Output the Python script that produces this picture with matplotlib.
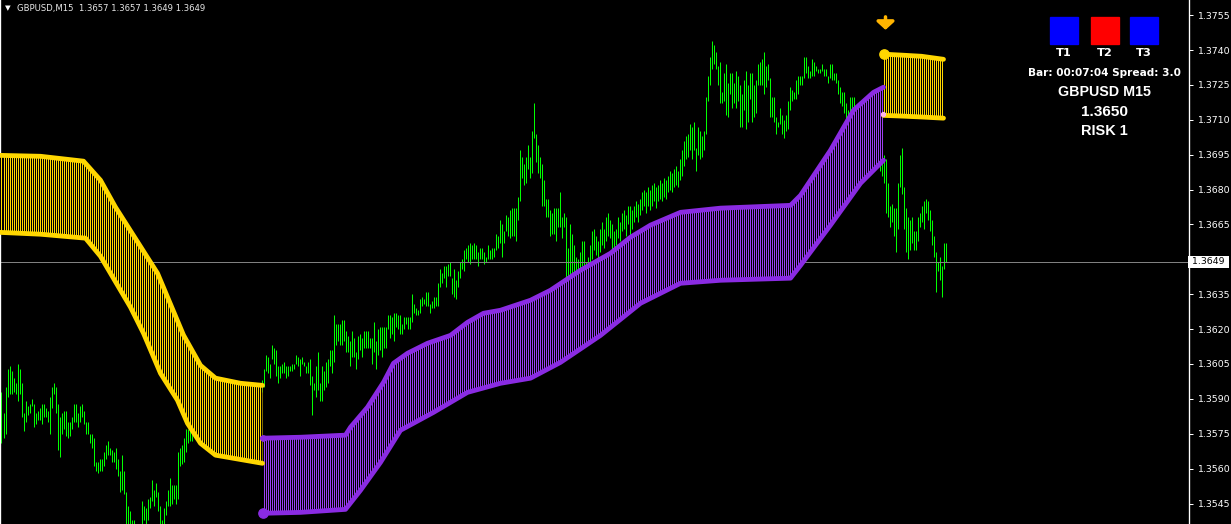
import numpy as np
import matplotlib
matplotlib.use('Agg')
import matplotlib.pyplot as plt
from matplotlib.patches import Rectangle
from matplotlib.transforms import blended_transform_factory

W, H, DPI = 1231, 524, 96
BASE = 1.3500          # prices below are stored as pips above 1.3500

# ── GBPUSD M15 bars (high / low, pips above 1.3500) ─────────────────────────
high_pips = [
    93, 84, 95, 103, 104, 102, 99, 97, 105, 103, 97, 84, 89, 87, 88, 90, 88, 84, 85, 86,
    88, 88, 86, 85, 91, 95, 97, 95, 88, 82, 84, 85, 85, 80, 80, 82, 88, 88, 84, 87,
    88, 85, 80, 80, 75, 75, 73, 63, 63, 64, 64, 67, 70, 72, 69, 68, 67, 69, 64, 59,
    66, 59, 50, 44, 42, 38, 38, 34, 33, 35, 46, 44, 43, 47, 48, 55, 51, 54, 50, 44,
    38, 43, 46, 51, 56, 53, 53, 53, 67, 69, 70, 73, 77, 77, 78,
    80, 82, 84, 83, 85, 86, 84, 87, 88, 86, 89, 90, 88, 91, 90, 92, 91, 89, 90, 92,
    93, 91, 94, 95, 93, 92, 94, 95, 96, 94, 95, 97, 96, 95, 97, 98,
    103, 109, 108, 105, 113, 112, 111, 104, 104, 105, 106, 104, 104, 104, 105, 105, 109, 108, 107, 108,
    106, 104, 106, 107, 100, 97, 104, 110, 97, 104, 102, 106, 107, 111, 111, 126, 122, 122, 122, 124,
    124, 119, 117, 115, 119, 116, 110, 117, 118, 116, 119, 119, 119, 116, 116, 123, 115, 120, 121, 121,
    121, 121, 126, 126, 125, 127, 127, 126, 126, 122, 125, 125, 125, 125, 135, 131, 129, 128, 133, 134,
    133, 136, 136, 131, 132, 134, 134, 140, 146, 144, 147, 147, 148, 149, 142, 146, 141, 145, 149, 150,
    154, 155, 156, 157, 156, 157, 156, 153, 155, 155,
    153, 151, 156, 154, 155, 155, 161, 160, 167, 165, 162, 169, 168, 171, 172, 172, 172, 177, 197, 194,
    191, 194, 199, 194, 205, 217, 204, 199, 194, 191, 184, 176, 176, 171, 170, 172, 172, 172, 179, 168,
    170, 168, 155, 165, 161, 156, 151, 150, 153, 158, 158, 149, 151,
    156, 162, 163, 160, 158, 163, 166, 163, 168, 170, 167, 165, 162, 163, 168, 166, 170, 171, 169, 173,
    173, 171, 173, 175, 174, 176, 179, 180, 179, 181, 180, 182, 183, 181, 182, 184, 183, 185, 184, 186,
    188, 187, 189, 190, 188, 193, 197, 201, 203, 204, 208, 207, 209, 198, 207, 205, 203, 205,
    220, 229, 237, 244, 242, 239, 233, 235, 222, 230, 234, 226, 230, 230, 226, 231, 229, 225, 221, 227,
    231, 225, 230, 230, 225, 227, 234, 235, 236, 239, 233, 234, 228, 220, 220, 211, 209, 215, 212, 210,
    212, 218, 224, 223, 222, 227, 229, 229, 229, 237, 237, 233, 231, 236, 235, 233, 232, 232, 234, 232,
    232, 229, 234, 234, 230, 230, 227, 224, 222, 222, 217, 214, 220, 220, 220, 215, 217, 218, 218,
    216, 214, 212, 210, 208, 205, 203, 200, 198, 196, 195,
    193, 183, 173, 174, 172, 172, 183, 195, 198, 181, 172, 168, 167, 168, 162, 162, 168, 170, 173, 175,
    176, 175, 171, 167, 160, 153, 149, 151, 147, 157, 157,
]
low_pips = [
    71, 73, 75, 91, 92, 92, 93, 92, 89, 92, 82, 76, 80, 83, 84, 87, 78, 79, 81, 81,
    79, 82, 82, 80, 75, 86, 92, 84, 68, 65, 75, 77, 74, 73, 74, 77, 80, 80, 78, 80,
    82, 79, 75, 75, 71, 69, 61, 59, 58, 59, 59, 61, 64, 66, 66, 63, 63, 60, 57, 50,
    51, 49, 33, 33, 32, 30, 31, 26, 25, 27, 34, 38, 35, 38, 43, 46, 44, 48, 42, 34,
    32, 35, 40, 44, 44, 45, 47, 45, 47, 61, 62, 63, 67, 71, 72,
    72, 74, 76, 75, 78, 79, 77, 80, 81, 79, 82, 83, 80, 84, 83, 85, 84, 82, 84, 86,
    86, 84, 87, 88, 86, 85, 88, 89, 89, 87, 88, 90, 89, 88, 91, 93,
    95, 102, 101, 99, 107, 105, 100, 97, 99, 101, 101, 99, 100, 102, 102, 103, 105, 104, 100, 105,
    104, 101, 101, 96, 83, 94, 91, 94, 89, 89, 94, 95, 97, 104, 101, 106, 113, 115, 113, 113,
    115, 110, 110, 104, 108, 108, 103, 107, 111, 108, 112, 112, 112, 112, 105, 110, 103, 109, 111, 108,
    112, 112, 120, 116, 118, 115, 121, 120, 118, 118, 120, 122, 120, 120, 123, 127, 126, 126, 127, 130,
    131, 130, 130, 127, 129, 129, 130, 130, 138, 140, 142, 138, 143, 143, 135, 134, 133, 138, 142, 146,
    145, 150, 149, 148, 150, 150, 150, 147, 150, 150,
    148, 149, 150, 150, 150, 151, 154, 155, 157, 151, 157, 162, 160, 159, 160, 160, 158, 167, 175, 185,
    182, 183, 189, 185, 187, 202, 192, 187, 185, 173, 173, 168, 168, 160, 161, 161, 158, 164, 164, 159,
    164, 137, 140, 137, 142, 137, 137, 138, 142, 147, 145, 142, 144,
    147, 150, 154, 152, 149, 153, 156, 155, 158, 160, 159, 154, 153, 156, 159, 158, 162, 163, 160, 165,
    160, 163, 166, 168, 166, 169, 171, 173, 170, 173, 171, 173, 175, 172, 175, 176, 175, 177, 176, 179,
    180, 179, 181, 182, 181, 184, 186, 190, 193, 194, 197, 193, 197, 188, 195, 193, 194, 197,
    204, 218, 225, 232, 234, 232, 225, 217, 217, 218, 212, 211, 221, 215, 217, 215, 218, 207, 207, 214,
    206, 209, 219, 209, 211, 213, 225, 225, 225, 221, 224, 227, 211, 211, 209, 204, 207, 208, 204, 202,
    205, 206, 214, 218, 219, 219, 221, 225, 225, 228, 230, 228, 228, 229, 229, 231, 230, 230, 231, 229,
    229, 226, 228, 227, 227, 226, 221, 217, 216, 213, 209, 209, 213, 214, 213, 211, 213, 216, 213,
    208, 205, 203, 200, 198, 195, 193, 190, 188, 186, 183,
    170, 168, 164, 166, 160, 153, 163, 181, 178, 163, 153, 150, 154, 157, 154, 154, 158, 164, 166, 163,
    170, 167, 162, 156, 151, 136, 145, 141, 134, 146, 149,
]

# ── indicator zones (bar index, pips) ────────────────────────────────────────
sell1_up_bar = [-1, 19.5, 41, 49.5, 57, 78, 91, 99.5, 107, 119.5, 130.5]
sell1_up = [194.7, 194.3, 192.2, 184.0, 172.4, 144.0, 117.4, 104.4, 98.9, 96.7, 95.8]
sell1_lo_bar = [-1, 19.5, 42, 49.5, 54.5, 64.5, 71, 79.5, 88, 93, 99.5, 107, 130.5]
sell1_lo = [161.6, 160.8, 159.1, 151.3, 144.0, 129.4, 118.2, 101.0, 89.4, 79.5, 70.9, 65.8, 62.3]

buy_up_bar = [130.5, 149.5, 172, 174.5, 183, 191, 196, 203, 213, 224.5, 233, 241, 249.5,
              264.5, 274.5, 289.5, 304.5, 314.5, 324.5, 339.5, 359.5, 394.5, 399.5, 414.5,
              426, 436, 441]
buy_up = [73.1, 73.5, 74.4, 77.8, 86.4, 97.1, 105.3, 109.6, 113.9, 117.3, 122.9, 126.8, 128.1,
          132.4, 136.7, 145.3, 152.6, 159.5, 164.7, 170.2, 172.0, 173.2, 177.5, 196.9,
          214.1, 221.8, 224.0]
buy_lo_bar = [130.5, 149.5, 172, 179.5, 189.5, 199.5, 216, 233, 249.5, 264.5, 272, 279.5,
              299.5, 319.5, 339.5, 359.5, 394.5, 399.5, 414.5, 429.5, 441]
buy_lo = [40.8, 41.2, 42.5, 50.7, 62.7, 76.5, 84.2, 92.8, 96.7, 98.9, 102.3, 105.7,
          117.3, 131.1, 139.7, 141.0, 141.9, 147.4, 164.7, 182.7, 192.6]

sell2_bar = [441, 450, 460, 471]
sell2_up = [238.2, 237.8, 237.3, 236.0]
sell2_lo = [211.9, 211.6, 211.2, 210.7]

signal_bar = 442
signal_arrow = (255.4, 247.5)   # arrow tail / tip
current_price = 1.3649
price_ticks = [1.3545, 1.3560, 1.3575, 1.3590, 1.3605, 1.3620, 1.3635,
               1.3665, 1.3680, 1.3695, 1.3710, 1.3725, 1.3740, 1.3755]
panel_labels = ['T1', 'T2', 'T3']
panel_colors = ['#0000ff', '#ff0000', '#0000ff']
panel_x = [1050, 1091, 1130]


def px(p):
    return BASE + np.asarray(p, dtype=float) / 10000


fig = plt.figure(figsize=(W / DPI, H / DPI), dpi=DPI, facecolor='black')
ax = fig.add_axes([0, 0, 1189 / W, 1])
ax.set_facecolor('black')
ax.set_xlim(-0.75, 593.75)      # 2 px per bar, bars on pixel centres
ax.set_ylim(1.35362, 1.37615)

# ── price bars ───────────────────────────────────────────────────────────────
bars = np.arange(len(high_pips))
ax.vlines(bars, px(low_pips), px(high_pips), color='#00ff00', lw=0.75, zorder=2)

ax.axhline(current_price, color='#808080', lw=0.75, zorder=2.5)


def zone(ux, uy, lx, ly, col, stripe_col, edge_lw=3.6):
    xs = np.r_[ux, lx[::-1]]
    ys = np.r_[px(uy), px(ly)[::-1]]
    poly = ax.fill(xs, ys, facecolor='black', lw=0, zorder=3)[0]
    # one histogram stripe per bar, clipped to the zone outline
    k = np.arange(np.ceil(xs.min()), np.floor(xs.max()) + 1)
    stripes = ax.vlines(k, ys.min(), ys.max(), color=stripe_col, lw=0.75,
                        antialiased=False, zorder=3.1)
    stripes.set_clip_path(poly)
    ax.plot(ux, px(uy), color=col, lw=edge_lw, solid_capstyle='round', zorder=4)
    ax.plot(lx, px(ly), color=col, lw=edge_lw, solid_capstyle='round', zorder=4)


zone(sell1_up_bar, sell1_up, sell1_lo_bar, sell1_lo, '#ffd700', '#ffd700')
zone(buy_up_bar, buy_up, buy_lo_bar, buy_lo, '#8a2be2', '#9b3ff0')
zone(sell2_bar, sell2_up, sell2_bar, sell2_lo, '#ffd700', '#ffd700')

ax.plot([buy_lo_bar[0]], px([buy_lo[0]]), 'o', color='#8a2be2', ms=7, zorder=5)
ax.plot([buy_up_bar[0]], px([buy_up[0]]), 'o', color='#8a2be2', ms=4, zorder=5)
ax.plot([sell2_bar[0]], px([sell2_up[0]]), 'o', color='#ffd700', ms=7, zorder=5)
ax.plot([sell2_bar[0] - 0.5], px([sell2_lo[0] + 0.5]), 'o', color='#ffb6e6', ms=3, zorder=5)

ax.annotate('', xy=(signal_bar, px(signal_arrow[1])), xytext=(signal_bar, px(signal_arrow[0])),
            arrowprops=dict(arrowstyle='-|>,head_width=0.55,head_length=0.5',
                            color='#ffb400', lw=2.6), zorder=6)

# ── axes styling (MT4 look) ──────────────────────────────────────────────────
for s in ['top', 'bottom']:
    ax.spines[s].set_visible(False)
for s in ['left', 'right']:
    ax.spines[s].set_color('white')
    ax.spines[s].set_linewidth(1.0)
ax.set_xticks([])
ax.yaxis.tick_right()
ax.set_yticks(price_ticks)
ax.set_yticklabels([f'{v:.4f}' for v in price_ticks])
ax.tick_params(axis='y', colors='white', labelsize=7, length=3, width=0.75, pad=3)

blend = blended_transform_factory(ax.transAxes, ax.transData)
ax.text(1.0, current_price, ' 1.3649 ', transform=blend, ha='left', va='center',
        fontsize=7, color='black', zorder=7, clip_on=False,
        bbox=dict(boxstyle='square,pad=0.15', fc='white', ec='none'))

# ── header and panel texts ───────────────────────────────────────────────────
def ftext(x, y, s, **kw):
    fig.text(x / W, 1 - y / H, s, **kw)


ftext(5, 8, '▼', color='white', fontsize=5.5, va='center')
ftext(17, 8, 'GBPUSD,M15  1.3657 1.3657 1.3649 1.3649', color='#e8e8e8',
      fontsize=6.4, va='center')

for lab, col, x0 in zip(panel_labels, panel_colors, panel_x):
    fig.add_artist(Rectangle((x0 / W, 1 - 44 / H), 28 / W, 27 / H,
                             transform=fig.transFigure, color=col))
    ftext(x0 + 14, 53, lab, color='white', fontsize=8.5, fontweight='bold',
          ha='center', va='center', family='DejaVu Sans')

bold = dict(color='white', fontweight='bold', ha='center', va='center')
ftext(1104, 73, 'Bar: 00:07:04 Spread: 3.0', fontsize=7.9, family='DejaVu Sans', **bold)
ftext(1104, 92, 'GBPUSD M15', fontsize=10.7, family='Liberation Sans', **bold)
ftext(1105, 112, '1.3650', fontsize=11.5, family='Liberation Sans', **bold)
ftext(1104, 131, 'RISK 1', fontsize=10.9, family='Liberation Sans', **bold)

fig.savefig('out.png', dpi=DPI, facecolor='black')
